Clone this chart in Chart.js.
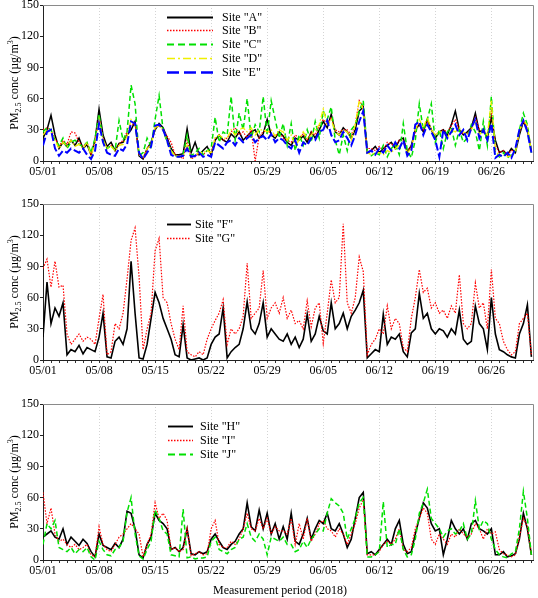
<!DOCTYPE html>
<html>
<head>
<meta charset="utf-8">
<script src="https://cdn.jsdelivr.net/npm/chart.js@4.4.1/dist/chart.umd.min.js"></script>
<style>
  body { margin: 0; background: #fff; }
  #wrap { position: relative; width: 538px; height: 598px; overflow: hidden; font-family: 'Liberation Serif', 'Times New Roman', serif; }
  canvas { position: absolute; left: 0; }
  .ytitle { position: absolute; left: 14px; transform: translate(-50%, -50%) rotate(-90deg); white-space: nowrap; font-size: 12px; line-height: 1; color: #000; }
  .ytitle sub, .ytitle sup { font-size: 8px; line-height: 0; }
  #xtitle { position: absolute; left: 280px; top: 590px; transform: translate(-50%, -50%); white-space: nowrap; font-size: 12px; color: #000; }
</style>
</head>
<body>
<div id="wrap">
  <canvas id="c1" width="538" height="192" style="top:-5px"></canvas>
  <canvas id="c2" width="538" height="192" style="top:194px"></canvas>
  <canvas id="c3" width="538" height="192" style="top:394px"></canvas>
  <div class="ytitle" style="top:83px">PM<sub>2.5</sub> conc (µg/m<sup>3</sup>)</div>
  <div class="ytitle" style="top:282px">PM<sub>2.5</sub> conc (µg/m<sup>3</sup>)</div>
  <div class="ytitle" style="top:482px">PM<sub>2.5</sub> conc (µg/m<sup>3</sup>)</div>
  <div id="xtitle">Measurement period (2018)</div>
</div>
<script>
// values every 12 h starting 05/01 00:00 (index * 0.5 day)
const stepDays = 0.5;
const xMaxDays = 61.2;
const dateLabels = ['05/01', '05/08', '05/15', '05/22', '05/29', '06/05', '06/12', '06/19', '06/26'];
const yTicks = [0, 30, 60, 90, 120, 150];

// panel 1
const siteA = [22,30, 44,25, 12,18, 14,20, 15,22, 12,16, 6,20,
  50,25, 14,18, 10,17, 18,25, 30,38, 5,2, 12,18,
  30,36, 32,22, 12,6, 6,7, 31,8, 18,6, 10,14,
  6,20, 25,20, 18,26, 22,28, 20,24, 28,30, 22,26,
  40,25, 22,28, 24,18, 15,22, 20,24, 18,28, 22,30,
  38,32, 45,28, 25,32, 28,22, 30,48, 52,8, 10,14,
  8,12, 15,18, 12,20, 22,8, 15,30, 35,28, 40,30,
  22,28, 30,25, 35,48, 30,25, 28,32, 46,28, 30,22,
  42,20, 8,10, 6,12, 8,25, 38,30, 10];
const siteB = [30,32, 30,22, 14,20, 16,28, 27,18, 14,18, 6,18,
  42,22, 12,15, 10,16, 20,28, 35,36, 6,3, 12,16,
  32,34, 30,24, 18,6, 5,2, 20,2, 4,8, 6,10,
  8,22, 22,20, 22,28, 32,25, 28,22, 30,0, 24,28,
  30,26, 24,28, 22,20, 18,25, 22,26, 20,28, 25,34,
  40,35, 42,30, 28,30, 30,25, 35,58, 52,12, 12,10,
  14,10, 18,16, 15,20, 20,10, 14,28, 36,30, 38,30,
  25,28, 30,28, 34,40, 30,26, 26,32, 42,30, 28,24,
  48,15, 8,10, 6,10, 10,28, 38,32, 10];
const siteC = [28,32, 30,20, 15,22, 12,18, 20,16, 14,18, 8,22,
  45,20, 12,15, 10,39, 20,28, 73,55, 5,8, 22,14,
  40,63, 30,18, 10,5, 4,6, 25,5, 8,12, 6,10,
  12,42, 18,28, 25,62, 20,46, 30,60, 22,35, 28,62,
  25,58, 40,22, 36,15, 36,10, 25,15, 30,18, 38,22,
  48,40, 52,20, 6,25, 10,30, 35,48, 58,10, 5,8,
  6,15, 4,12, 16,6, 36,10, 3,20, 55,30, 40,55,
  18,30, 12,28, 32,15, 30,18, 22,35, 28,10, 38,15,
  62,8, 4,8, 3,6, 10,30, 46,35, 8];
const siteD = [25,30, 28,20, 12,18, 14,20, 14,16, 12,18, 5,18,
  40,20, 12,14, 10,15, 16,24, 40,35, 6,4, 12,15,
  32,34, 30,20, 10,5, 4,5, 15,3, 6,8, 8,10,
  8,22, 25,22, 22,30, 25,30, 32,28, 32,25, 30,30,
  28,30, 24,30, 28,20, 25,15, 20,28, 22,25, 30,35,
  50,35, 40,28, 25,30, 28,20, 35,58, 50,8, 6,8,
  8,6, 10,8, 12,15, 18,8, 12,30, 40,32, 42,30,
  25,28, 28,22, 30,28, 32,28, 25,30, 38,25, 30,25,
  58,10, 5,6, 4,5, 8,28, 40,34, 8];
const siteE = [15,28, 30,12, 5,10, 8,12, 10,8, 12,6, 2,10,
  36,18, 8,6, 5,12, 10,16, 38,36, 8,2, 8,14,
  34,35, 30,20, 6,4, 4,5, 12,4, 5,8, 4,6,
  4,18, 15,12, 18,20, 15,22, 18,22, 25,18, 22,24,
  20,26, 18,22, 20,15, 12,20, 8,18, 15,22, 20,28,
  30,39, 25,18, 20,28, 22,15, 25,38, 48,8, 10,6,
  12,8, 15,10, 18,12, 20,5, 10,35, 38,25, 35,28,
  20,4, 30,22, 28,35, 25,30, 20,32, 40,22, 30,20,
  36,3, 6,4, 8,3, 12,30, 39,28, 8];

// panel 2
const siteF = [22,75, 35,50, 42,55, 5,10, 8,14, 6,12, 10,8,
  22,45, 3,2, 18,22, 15,30, 95,45, 2,1, 15,40,
  65,55, 40,30, 20,5, 3,34, 2,0, 1,2, 0,2,
  15,22, 25,50, 2,8, 12,15, 30,56, 30,25, 35,55,
  22,30, 25,20, 18,25, 15,22, 12,20, 44,18, 25,42,
  28,25, 55,30, 35,45, 30,42, 48,55, 67,2, 6,10,
  8,44, 15,22, 20,25, 8,3, 26,30, 64,40, 45,30,
  25,30, 28,22, 30,25, 48,20, 15,18, 52,35, 30,10,
  60,25, 10,8, 5,3, 2,25, 35,53, 3];
const siteG = [88,97, 70,95, 70,72, 25,15, 20,25, 18,22, 20,15,
  40,63, 5,8, 35,30, 45,78, 115,127, 80,10, 30,45,
  105,117, 60,55, 35,20, 10,52, 8,5, 3,8, 5,20,
  30,38, 45,58, 15,30, 25,30, 42,93, 40,45, 50,86,
  40,50, 55,45, 60,40, 48,35, 38,30, 57,32, 50,55,
  16,45, 77,55, 60,131, 55,45, 60,99, 85,5, 15,20,
  30,25, 52,30, 40,35, 12,8, 40,60, 87,65, 69,50,
  55,45, 48,40, 52,45, 82,35, 30,35, 74,50, 55,30,
  87,40, 35,18, 10,5, 8,35, 40,45, 5];

// panel 3
const siteH = [22,25, 28,22, 20,30, 15,22, 18,14, 20,16, 8,3,
  25,14, 12,10, 16,12, 20,47, 45,30, 5,2, 15,22,
  45,38, 35,30, 10,12, 8,12, 30,6, 5,8, 6,8,
  20,25, 18,12, 10,15, 18,25, 30,55, 32,28, 48,30,
  45,25, 35,20, 32,20, 45,18, 15,25, 40,20, 30,38,
  35,45, 30,28, 35,25, 12,20, 40,60, 65,6, 8,5,
  10,15, 20,15, 30,38, 15,6, 8,25, 40,55, 50,35,
  28,30, 5,20, 38,30, 25,30, 20,35, 38,30, 28,25,
  30,5, 5,8, 3,4, 6,20, 45,30, 5];
const siteI = [65,35, 50,25, 18,20, 15,12, 15,10, 12,15, 5,3,
  32,15, 10,8, 15,22, 25,30, 35,30, 25,3, 15,25,
  55,40, 45,38, 10,12, 8,10, 30,4, 6,8, 5,6,
  30,38, 15,12, 12,18, 15,20, 30,45, 30,28, 40,30,
  40,25, 32,28, 28,25, 40,15, 35,20, 40,18, 25,35,
  38,30, 28,22, 30,25, 15,25, 35,50, 58,5, 5,5,
  8,15, 18,15, 20,30, 10,8, 12,30, 40,50, 45,20,
  15,25, 20,15, 25,22, 30,25, 22,25, 35,30, 20,30,
  25,27, 10,6, 5,3, 5,22, 40,32, 5];
const siteJ = [15,35, 30,38, 12,10, 8,12, 6,10, 8,12, 3,0,
  18,10, 5,4, 10,12, 18,46, 60,25, 4,1, 10,18,
  48,40, 28,25, 5,4, 3,49, 2,3, 1,2, 2,3,
  18,22, 10,8, 6,10, 12,20, 22,35, 22,18, 25,20,
  5,22, 20,18, 22,15, 15,8, 10,18, 12,20, 25,30,
  28,45, 59,55, 52,45, 20,30, 40,55, 60,3, 3,5,
  8,56, 12,15, 15,30, 10,3, 5,20, 45,55, 68,40,
  35,30, 22,28, 30,25, 28,35, 20,25, 57,30, 38,35,
  20,10, 5,3, 2,6, 8,30, 66,40, 5];

Chart.defaults.font.family = "'Liberation Serif', 'Times New Roman', serif";
Chart.defaults.font.size = 12;
Chart.defaults.color = '#000';

const dayTicks = Array.from({ length: 62 }, (_, i) => i);

function toPoints(values) {
  return values.map((v, i) => ({ x: i * stepDays, y: v }));
}

function series(label, values, color, width, dash, legendDash, order) {
  return {
    label: label,
    data: toPoints(values),
    borderColor: color,
    borderWidth: width,
    borderDash: dash,
    legendDash: legendDash,
    order: order,
    pointRadius: 0,
    tension: 0,
    fill: false
  };
}

// box on top/right + legend inside the plot
const frameLegend = {
  id: 'frameLegend',
  afterDraw(chart, args, opts) {
    const ctx = chart.ctx;
    const a = chart.chartArea;
    ctx.save();
    ctx.strokeStyle = '#8a8a8a';
    ctx.lineWidth = 1;
    ctx.beginPath();
    ctx.moveTo(a.left, a.top + 0.5);
    ctx.lineTo(Math.round(a.right) + 0.5, a.top + 0.5);
    ctx.lineTo(Math.round(a.right) + 0.5, a.bottom);
    ctx.stroke();

    chart.data.datasets.forEach((ds, i) => {
      const y = Math.round(a.top + opts.y0 + i * opts.dy) + 0.5;
      ctx.setLineDash(ds.legendDash || []);
      ctx.strokeStyle = ds.borderColor;
      ctx.lineWidth = ds.borderWidth + 0.3;
      ctx.beginPath();
      ctx.moveTo(opts.x1, y);
      ctx.lineTo(opts.x2, y);
      ctx.stroke();
      ctx.setLineDash([]);
      ctx.fillStyle = '#000';
      ctx.font = "12px 'Liberation Serif'";
      ctx.textBaseline = 'middle';
      ctx.fillText(ds.label, opts.tx, y);
    });
    ctx.restore();
  }
};

function makePanel(id, datasets, legendBox) {
  return new Chart(document.getElementById(id), {
    type: 'line',
    data: { datasets: datasets },
    options: {
      responsive: false,
      animation: false,
      layout: { padding: { top: 10, right: 5, left: 0, bottom: 0 } },
      plugins: {
        legend: { display: false },
        tooltip: { enabled: false },
        frameLegend: legendBox
      },
      scales: {
        x: {
          type: 'linear',
          min: 0,
          max: xMaxDays,
          afterBuildTicks: s => { s.ticks = dayTicks.map(v => ({ value: v })); },
          afterFit: s => { s.height = 26; },
          ticks: {
            autoSkip: false,
            maxRotation: 0,
            padding: 1,
            callback: v => (v % 7 === 0 ? dateLabels[v / 7] : '')
          },
          grid: {
            color: c => (c.tick && c.tick.value % 7 === 0 && c.tick.value > 0 ? '#d4d4d4' : 'rgba(0,0,0,0)'),
            tickColor: '#333',
            tickLength: 3
          },
          border: { color: '#222', dash: [1, 2] }
        },
        y: {
          min: 0,
          max: 150,
          afterBuildTicks: s => { s.ticks = yTicks.map(v => ({ value: v })); },
          afterFit: s => { s.width = 43; },
          ticks: { padding: 1 },
          grid: { drawOnChartArea: false, tickLength: 3, tickColor: '#222' },
          border: { color: '#222' }
        }
      }
    },
    plugins: [frameLegend]
  });
}

makePanel('c1', [
  series('Site "A"', siteA, '#000000', 1.5, [], [], 5),
  series('Site "B"', siteB, '#ff0000', 1.2, [1.5, 1.5], [1.5, 1.5], 4),
  series('Site "C"', siteC, '#00e000', 1.5, [5, 3], [7, 4], 3),
  series('Site "D"', siteD, '#f0f000', 1.3, [6, 2, 1.5, 2], [8, 3, 2, 3], 2),
  series('Site "E"', siteE, '#0000ff', 2, [8, 3], [12, 5], 1)
], { x1: 167, x2: 213, tx: 222, y0: 11.5, dy: 13.9 });

makePanel('c2', [
  series('Site "F"', siteF, '#000000', 1.6, [], [], 2),
  series('Site "G"', siteG, '#ff0000', 1.2, [1.5, 1.5], [1.5, 1.5], 1)
], { x1: 167, x2: 191, tx: 195, y0: 20, dy: 14 });

makePanel('c3', [
  series('Site "H"', siteH, '#000000', 1.6, [], [], 3),
  series('Site "I"', siteI, '#ff0000', 1.2, [1.5, 1.5], [1.5, 1.5], 2),
  series('Site "J"', siteJ, '#00e000', 1.5, [5, 3], [7, 4], 1)
], { x1: 168, x2: 193, tx: 200, y0: 21.7, dy: 14.2 });
</script>
</body>
</html>
